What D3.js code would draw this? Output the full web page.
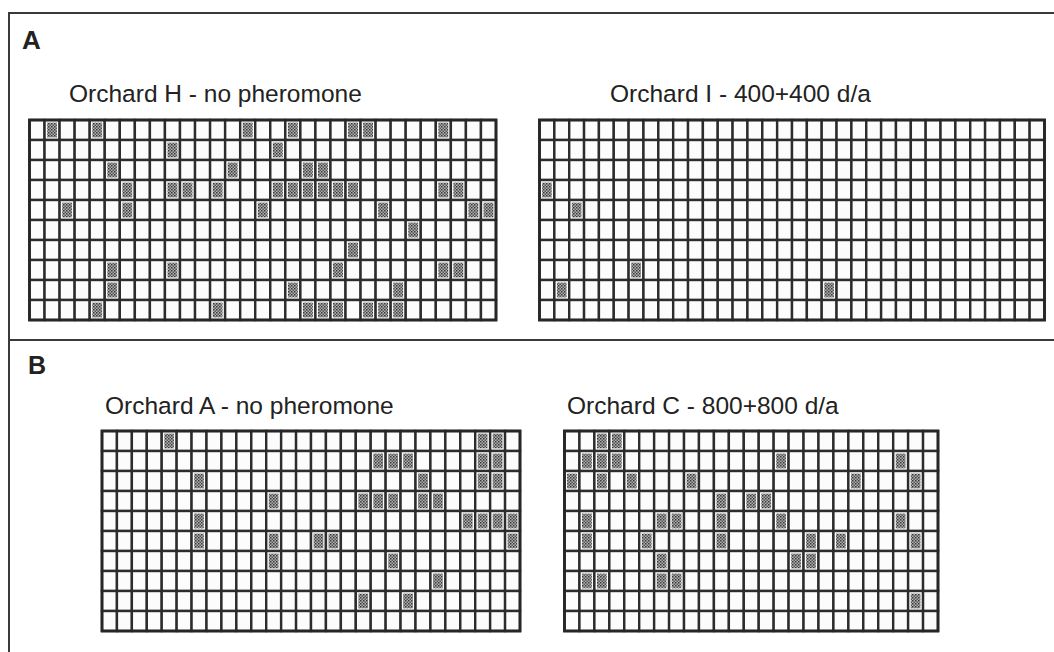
<!DOCTYPE html>
<html>
<head>
<meta charset="utf-8">
<script src="https://cdn.jsdelivr.net/npm/d3@7"></script>
<style>
  body { margin: 0; background: #fff; }
  svg { display: block; }
  text { font-family: "Liberation Sans", Arial, Helvetica, sans-serif; fill: #222; }
</style>
</head>
<body>
<svg class="fig" width="1054" height="652"></svg>
<script>
/* Panel labels and orchard titles */
let panel_labels = ["A", "B"];
let titles = ["Orchard H - no pheromone", "Orchard I - 400+400 d/a", "Orchard A - no pheromone", "Orchard C - 800+800 d/a"];

/* Grid sizes: trees per row and number of rows */
let n_rows = 10;
let n_cols = [31, 34, 28, 25];

/* Infested trees: for each row, the column index of shaded cells */
let orchard_h = [
    [1, 4, 14, 17, 21, 22, 27],
    [9, 16],
    [5, 13, 18, 19],
    [6, 9, 10, 12, 16, 17, 18, 19, 20, 21, 27, 28],
    [2, 6, 15, 23, 29, 30],
    [25],
    [21],
    [5, 9, 20, 27, 28],
    [5, 17, 24],
    [4, 12, 18, 19, 20, 22, 23, 24]
];
let orchard_i = [
    [], [], [], [0], [2], [], [], [6], [1, 19], []
];
let orchard_a = [
    [4, 25, 26],
    [18, 19, 20, 25, 26],
    [6, 21, 25, 26],
    [11, 17, 18, 19, 21, 22],
    [6, 24, 25, 26, 27],
    [6, 11, 14, 15, 27],
    [11, 19],
    [22],
    [17, 20],
    []
];
let orchard_c = [
    [2, 3],
    [1, 2, 3, 14, 22],
    [0, 2, 4, 8, 19, 23],
    [10, 12, 13],
    [1, 6, 7, 10, 14, 22],
    [1, 5, 10, 16, 18, 23],
    [6, 15, 16],
    [1, 2, 6, 7],
    [23],
    []
];

let svg = d3.select("svg.fig");

/* stippled fill used for infested cells */
let defs = svg.append("defs");
let pat = defs.append("pattern").attr("id", "stip")
    .attr("width", 3).attr("height", 3).attr("patternUnits", "userSpaceOnUse");
pat.append("rect").attr("width", 3).attr("height", 3).attr("fill", "#b0b0b0");
pat.append("rect").attr("width", 1.5).attr("height", 1.5).attr("fill", "#383838");
pat.append("rect").attr("x", 1.5).attr("y", 1.5).attr("width", 1.5).attr("height", 1.5).attr("fill", "#565656");

/* outer frame and divider between A and B */
let line_col = "#3a3a3a";
svg.append("line").attr("x1", 9).attr("x2", 1054).attr("y1", 13).attr("y2", 13)
    .attr("stroke", line_col).attr("stroke-width", 2);
svg.append("line").attr("x1", 9).attr("x2", 9).attr("y1", 12).attr("y2", 652)
    .attr("stroke", line_col).attr("stroke-width", 2);
svg.append("line").attr("x1", 9).attr("x2", 1054).attr("y1", 340).attr("y2", 340)
    .attr("stroke", line_col).attr("stroke-width", 2);

svg.append("text").attr("x", 22).attr("y", 49).attr("font-size", 26).attr("font-weight", "bold")
    .text(panel_labels[0]);
svg.append("text").attr("x", 28).attr("y", 374).attr("font-size", 25).attr("font-weight", "bold")
    .text(panel_labels[1]);

/* where each grid sits on the page */
let boxes = [
    {x: 29.5, y: 120, w: 466.5, title_x: 69, title_y: 102},
    {x: 539.5, y: 120, w: 505, title_x: 610, title_y: 102},
    {x: 102, y: 431, w: 418, title_x: 105, title_y: 414},
    {x: 564.5, y: 431, w: 373.5, title_x: 567, title_y: 414}
];
let grid_h = 200;
let all_data = [orchard_h, orchard_i, orchard_a, orchard_c];

all_data.forEach(function (rows, i) {
    let b = boxes[i];
    let x = d3.scaleLinear().domain([0, n_cols[i]]).range([b.x, b.x + b.w]);
    let y = d3.scaleLinear().domain([0, n_rows]).range([b.y, b.y + grid_h]);
    let g = svg.append("g");

    svg.append("text").attr("x", b.title_x).attr("y", b.title_y)
        .attr("font-size", 24.5).text(titles[i]);

    let cells = d3.range(n_rows * n_cols[i]).map(function (k) {
        return {r: Math.floor(k / n_cols[i]), c: k % n_cols[i]};
    });
    g.selectAll("rect.cell").data(cells).enter().append("rect")
        .attr("class", "cell")
        .attr("x", function (d) { return x(d.c); })
        .attr("y", function (d) { return y(d.r); })
        .attr("width", x(1) - x(0))
        .attr("height", y(1) - y(0))
        .attr("fill", "#fcfcfc")
        .attr("stroke", "#2c2c2c")
        .attr("stroke-width", 2.4);

    let hits = [];
    rows.forEach(function (cols, r) {
        cols.forEach(function (c) { hits.push({r: r, c: c}); });
    });
    g.selectAll("rect.hit").data(hits).enter().append("rect")
        .attr("class", "hit")
        .attr("x", function (d) { return x(d.c) + 2.6; })
        .attr("y", function (d) { return y(d.r) + 2.6; })
        .attr("width", x(1) - x(0) - 5.2)
        .attr("height", y(1) - y(0) - 5.2)
        .attr("fill", "url(#stip)");

    g.append("rect").attr("x", b.x).attr("y", b.y).attr("width", b.w).attr("height", grid_h)
        .attr("fill", "none").attr("stroke", "#262626").attr("stroke-width", 2.8);
});
</script>
</body>
</html>
